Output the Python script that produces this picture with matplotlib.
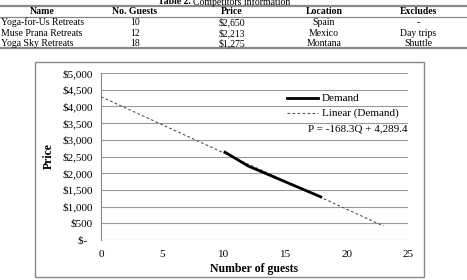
import matplotlib
matplotlib.use("Agg")
import matplotlib.pyplot as plt
import numpy as np
from matplotlib.patches import Rectangle
from matplotlib.lines import Line2D
from matplotlib.ticker import FuncFormatter

plt.rcParams['font.family'] = ['Liberation Serif', 'DejaVu Serif']

# ---- table data ----
col_headers = ["Name", "No. Guests", "Price", "Location", "Excludes"]
names = ["Yoga-for-Us Retreats", "Muse Prana Retreats", "Yoga Sky Retreats"]
guests = [10, 12, 18]
prices = [2650, 2213, 1275]
locations = ["Spain", "Mexico", "Montana"]
excludes = ["-", "Day trips", "Shuttle"]

# ---- chart data ----
trend_range = [0, 23]
y_ticks = [0, 500, 1000, 1500, 2000, 2500, 3000, 3500, 4000, 4500, 5000]
x_ticks = [0, 5, 10, 15, 20, 25]
equation = "P = -168.3Q + 4,289.4"

W, H = 467, 280
fig = plt.figure(figsize=(W/100, H/100), dpi=100)

def fx(px): return px / W
def fy(py): return 1 - py / H

# ---- table ----
fs = 7
fig.text(fx(191), fy(1.8), "Table 2.", ha='right', va='center', fontsize=fs, fontweight='bold')
fig.text(fx(193), fy(1.8), "Competitors information", ha='left', va='center', fontsize=fs)
for yy, lw in [(5.5, 1.6), (16.5, 0.9), (48, 1.6)]:
    fig.add_artist(Line2D([0, 1], [fy(yy), fy(yy)], color='#888888', lw=lw, transform=fig.transFigure))
col_x = [42, 135, 232, 324, 418]
for x, h in zip(col_x, col_headers):
    fig.text(fx(x), fy(11.5), h, ha='center', va='center', fontsize=fs, fontweight='bold')
row_y = [22.5, 33, 43]
for i in range(3):
    y = fy(row_y[i])
    fig.text(fx(1), y, names[i], ha='left', va='center', fontsize=fs)
    fig.text(fx(col_x[1]), y, str(guests[i]), ha='center', va='center', fontsize=fs)
    fig.text(fx(col_x[2]), y, "${:,}".format(prices[i]), ha='center', va='center', fontsize=fs)
    fig.text(fx(col_x[3]), y, locations[i], ha='center', va='center', fontsize=fs)
    fig.text(fx(col_x[4]), y, excludes[i], ha='center', va='center', fontsize=fs)

# ---- chart border ----
fig.add_artist(Rectangle((fx(35), fy(277)), fx(424) - fx(35), fy(62) - fy(277),
                         transform=fig.transFigure, fill=False, edgecolor='#888888', lw=1.0))

# ---- chart ----
ax = fig.add_axes([fx(101), fy(240), fx(408) - fx(101), fy(73) - fy(240)])
slope, intercept = np.polyfit(guests, prices, 1)
tx = np.array(trend_range, dtype=float)
trend_style = dict(color='#555555', lw=0.8, ls=(0, (2.5, 2)))
demand_style = dict(color='black', lw=2.0)
ax.plot(tx, slope * tx + intercept, zorder=3, **trend_style)
ax.plot(guests, prices, zorder=4, solid_capstyle='butt', **demand_style)

ax.set_xlim(0, 25)
ax.set_ylim(0, 5000)
ax.set_yticks(y_ticks)
ax.set_xticks(x_ticks)
ax.yaxis.set_major_formatter(FuncFormatter(lambda v, p: "$-  " if v == 0 else "${:,.0f}".format(v)))
ax.grid(axis='y', color='#999999', lw=0.8)
ax.set_axisbelow(True)
for s in ['top', 'right', 'bottom']:
    ax.spines[s].set_visible(False)
ax.spines['left'].set_color('#888888')
ax.spines['left'].set_linewidth(0.8)
ax.tick_params(axis='both', length=0, labelsize=8)
ax.tick_params(axis='y', pad=6)
ax.tick_params(axis='x', pad=7)
ax.set_xlabel("Number of guests", fontsize=8.5, fontweight='bold', labelpad=3)
ax.set_ylabel("Price", fontsize=8.5, fontweight='bold', labelpad=5)

# legend (manual, in axes coordinates)
ax.add_line(Line2D([0.606, 0.707], [0.850, 0.850], transform=ax.transAxes, **demand_style))
ax.text(0.720, 0.850, "Demand", transform=ax.transAxes, ha='left', va='center', fontsize=8)
ax.add_line(Line2D([0.606, 0.707], [0.760, 0.760], transform=ax.transAxes, **trend_style))
ax.text(0.720, 0.760, "Linear (Demand)", transform=ax.transAxes, ha='left', va='center', fontsize=8)
ax.text(0.997, 0.665, equation, transform=ax.transAxes, ha='right', va='center', fontsize=8)

fig.savefig("out.png", dpi=100)
